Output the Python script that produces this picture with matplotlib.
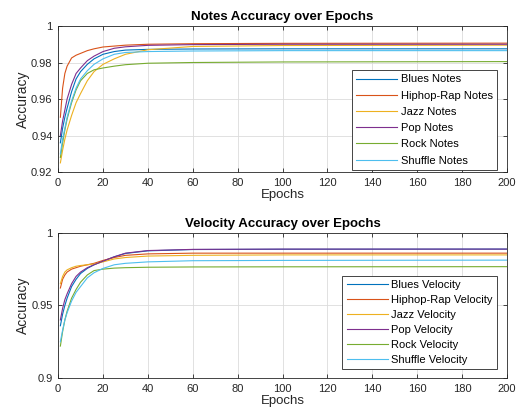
import matplotlib.pyplot as plt

plt.rcParams['font.family'] = ['Liberation Sans', 'DejaVu Sans']

epochs = [1, 2, 3, 4, 6, 8, 10, 13, 16, 20, 25, 30, 40, 60, 100, 200]

# notes accuracy
blues_notes   = [0.936, 0.944, 0.950, 0.955, 0.964, 0.971, 0.975, 0.979, 0.982, 0.9845, 0.986, 0.9868, 0.9872, 0.9874, 0.9875, 0.9875]
hiphop_notes  = [0.950, 0.966, 0.974, 0.978, 0.9825, 0.984, 0.985, 0.9865, 0.9875, 0.9885, 0.989, 0.9895, 0.990, 0.9903, 0.9905, 0.9906]
jazz_notes    = [0.925, 0.932, 0.938, 0.943, 0.951, 0.958, 0.963, 0.970, 0.975, 0.979, 0.982, 0.9845, 0.987, 0.9888, 0.9893, 0.9895]
pop_notes     = [0.940, 0.948, 0.954, 0.960, 0.968, 0.974, 0.977, 0.981, 0.9835, 0.986, 0.9878, 0.9886, 0.9894, 0.9898, 0.990, 0.990]
rock_notes    = [0.928, 0.936, 0.943, 0.949, 0.958, 0.965, 0.970, 0.974, 0.976, 0.977, 0.978, 0.9788, 0.9796, 0.980, 0.9803, 0.9805]
shuffle_notes = [0.930, 0.938, 0.944, 0.950, 0.959, 0.966, 0.971, 0.9755, 0.979, 0.982, 0.9845, 0.9855, 0.986, 0.9863, 0.9865, 0.9865]

# velocity accuracy
blues_vel   = [0.936, 0.944, 0.950, 0.955, 0.963, 0.968, 0.972, 0.9755, 0.978, 0.9805, 0.9835, 0.9858, 0.9876, 0.9885, 0.9887, 0.9888]
hiphop_vel  = [0.962, 0.968, 0.971, 0.973, 0.975, 0.976, 0.977, 0.978, 0.979, 0.981, 0.983, 0.9845, 0.9855, 0.986, 0.986, 0.986]
jazz_vel    = [0.965, 0.970, 0.973, 0.9745, 0.976, 0.977, 0.9775, 0.978, 0.9785, 0.980, 0.982, 0.983, 0.984, 0.9845, 0.9848, 0.9848]
pop_vel     = [0.940, 0.948, 0.954, 0.958, 0.965, 0.970, 0.973, 0.976, 0.978, 0.9805, 0.9835, 0.986, 0.9878, 0.9886, 0.9888, 0.9888]
rock_vel    = [0.922, 0.932, 0.940, 0.946, 0.955, 0.961, 0.966, 0.971, 0.974, 0.975, 0.9757, 0.976, 0.9763, 0.9765, 0.9766, 0.9767]
shuffle_vel = [0.925, 0.933, 0.940, 0.945, 0.953, 0.959, 0.963, 0.969, 0.9725, 0.9755, 0.978, 0.979, 0.980, 0.9808, 0.981, 0.9812]

genres = ['Blues', 'Hiphop-Rap', 'Jazz', 'Pop', 'Rock', 'Shuffle']
colors = ['#0072BD', '#D95319', '#EDB120', '#7E2F8E', '#77AC30', '#4DBEEE']

x_ticks = [0, 20, 40, 60, 80, 100, 120, 140, 160, 180, 200]
notes_yticks = [0.92, 0.94, 0.96, 0.98, 1.0]
notes_ylabels = ['0.92', '0.94', '0.96', '0.98', '1']
vel_yticks = [0.9, 0.95, 1.0]
vel_ylabels = ['0.9', '0.95', '1']

fig = plt.figure(figsize=(5.19, 4.16), dpi=100)
ax1 = fig.add_axes([0.112, 0.5865, 0.865, 0.351])
ax2 = fig.add_axes([0.112, 0.0913, 0.865, 0.349])


def style(ax, title, yticks, ylabels, ylim):
    ax.set_xlim(0, 200)
    ax.set_ylim(*ylim)
    ax.set_xticks(x_ticks)
    ax.set_yticks(yticks)
    ax.set_yticklabels(ylabels)
    ax.tick_params(direction='in', length=3, width=0.6, labelsize=8,
                   colors='#262626', top=True, right=True, pad=4)
    ax.grid(True, color='#dcdcdc', linewidth=0.6)
    ax.set_axisbelow(True)
    for s in ax.spines.values():
        s.set_linewidth(0.6)
        s.set_color('#262626')
    ax.set_title(title, fontsize=9.5, fontweight='bold', pad=4)
    ax.set_xlabel('Epochs', fontsize=9.5, color='#262626', labelpad=1)
    ax.set_ylabel('Accuracy', fontsize=10, color='#262626', labelpad=1)


notes = [blues_notes, hiphop_notes, jazz_notes, pop_notes, rock_notes, shuffle_notes]
vels = [blues_vel, hiphop_vel, jazz_vel, pop_vel, rock_vel, shuffle_vel]

for g, c, v in zip(genres, colors, notes):
    ax1.plot(epochs, v, color=c, linewidth=0.8, label=g + ' Notes')
for g, c, v in zip(genres, colors, vels):
    ax2.plot(epochs, v, color=c, linewidth=0.8, label=g + ' Velocity')

style(ax1, 'Notes Accuracy over Epochs', notes_yticks, notes_ylabels, (0.92, 1.0))
style(ax2, 'Velocity Accuracy over Epochs', vel_yticks, vel_ylabels, (0.9, 1.0))

legend_spec = [(ax1, (0.978, 0.014), 0.56), (ax2, (0.978, 0.062), 0.44)]
for ax, anchor, spacing in legend_spec:
    leg = ax.legend(loc='lower right', bbox_to_anchor=anchor, fontsize=8,
                    fancybox=False, framealpha=1, edgecolor='#262626',
                    handlelength=3.7, handletextpad=0.3, labelspacing=spacing,
                    borderpad=0.4, borderaxespad=0)
    leg.get_frame().set_linewidth(0.6)

fig.savefig('out.png', dpi=100, facecolor='white')
